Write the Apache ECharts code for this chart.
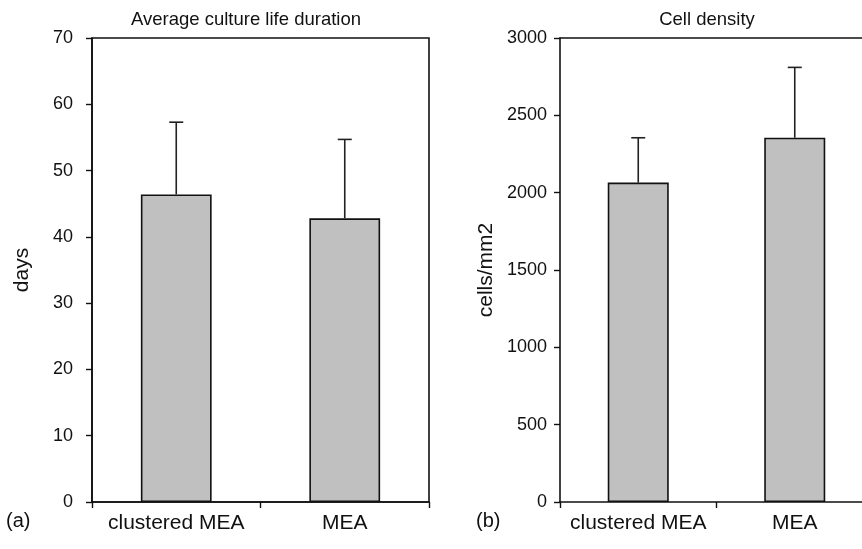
<!DOCTYPE html>
<html>
<head>
<meta charset="utf-8">
<script src="https://cdn.jsdelivr.net/npm/echarts@6/dist/echarts.min.js"></script>
<style>
  html, body { margin: 0; padding: 0; background: #fff; overflow: hidden; }
  #chart { width: 862px; height: 549px; }
</style>
</head>
<body>
<div id="chart"></div>
<script>
// Categories shared by both panels
const categories = ['clustered MEA', 'MEA'];

// (a) Average culture life duration, days
const lifeMean = [46.4, 42.8];
const lifeSD = [10.9, 11.9];
const lifeTicks = { min: 0, max: 70, interval: 10 };

// (b) Cell density, cells/mm2
const densityMean = [2065, 2355];
const densitySD = [290, 455];
const densityTicks = { min: 0, max: 3000, interval: 500 };

const FONT = 'Liberation Sans, Arial, Helvetica, sans-serif';
const BAR_FILL = '#c0c0c0';
const INK = '#111';

function errorSeries(mean, sd, axisIndex) {
  return {
    type: 'custom',
    xAxisIndex: axisIndex,
    yAxisIndex: axisIndex,
    z: 3,
    data: mean.map((m, i) => [i, m, m + sd[i]]),
    renderItem: function (params, api) {
      const base = api.coord([api.value(0), api.value(1)]);
      const top = api.coord([api.value(0), api.value(2)]);
      const half = 7;
      const style = { stroke: '#222', lineWidth: 1.6 };
      return {
        type: 'group',
        children: [
          { type: 'line', shape: { x1: base[0], y1: base[1], x2: top[0], y2: top[1] }, style: style },
          { type: 'line', shape: { x1: top[0] - half, y1: top[1], x2: top[0] + half, y2: top[1] }, style: style }
        ]
      };
    }
  };
}

function xAxisFor(gridIndex) {
  return {
    type: 'category',
    gridIndex: gridIndex,
    position: 'bottom',
    data: categories,
    boundaryGap: true,
    axisLine: { lineStyle: { color: INK, width: 1.6 } },
    axisTick: { show: true, alignWithLabel: false, length: 6, lineStyle: { color: INK, width: 1.4 } },
    axisLabel: { color: INK, fontFamily: FONT, fontSize: 21, margin: 11, interval: 0, hideOverlap: false },
    splitLine: { show: false }
  };
}

// Plain frame line along the top of a panel
function topFrame(gridIndex) {
  return {
    type: 'category',
    gridIndex: gridIndex,
    position: 'top',
    data: categories,
    axisLine: { show: true, lineStyle: { color: INK, width: 1.6 } },
    axisTick: { show: false },
    axisLabel: { show: false },
    splitLine: { show: false }
  };
}

function yAxisFor(gridIndex, ticks, name, gap, labelMargin) {
  return {
    type: 'value',
    gridIndex: gridIndex,
    min: ticks.min,
    max: ticks.max,
    interval: ticks.interval,
    name: name,
    nameLocation: 'middle',
    nameGap: gap,
    nameTextStyle: { color: INK, fontFamily: FONT, fontSize: 21 },
    axisLine: { show: true, lineStyle: { color: INK, width: 1.6 } },
    axisTick: { show: true, length: 6, lineStyle: { color: INK, width: 1.4 } },
    axisLabel: {
      color: INK, fontFamily: FONT, fontSize: 18, margin: labelMargin,
      formatter: function (v) { return String(v); }
    },
    splitLine: { show: false }
  };
}

const chart = echarts.init(document.getElementById('chart'), null, { renderer: 'canvas' });

chart.setOption({
  animation: false,
  backgroundColor: '#fff',
  title: [
    { text: 'Average culture life duration', left: 241, top: 5, textAlign: 'center',
      textStyle: { color: INK, fontFamily: FONT, fontSize: 18.5, fontWeight: 'normal' } },
    { text: 'Cell density', left: 702, top: 5, textAlign: 'center',
      textStyle: { color: INK, fontFamily: FONT, fontSize: 18.5, fontWeight: 'normal' } }
  ],
  grid: [
    // panel (a) is fully boxed
    { left: 92, top: 38, width: 337, height: 464, show: true, borderColor: INK, borderWidth: 1.6,
      backgroundColor: 'transparent', outerBoundsMode: 'none' },
    // panel (b) runs past the right edge of the page
    { left: 560, top: 38, width: 313, height: 464, show: false, outerBoundsMode: 'none' }
  ],
  xAxis: [xAxisFor(0), xAxisFor(1), topFrame(1)],
  yAxis: [
    yAxisFor(0, lifeTicks, 'days', 59, 19),
    yAxisFor(1, densityTicks, 'cells/mm2', 63, 13)
  ],
  graphic: [
    { type: 'text', left: 6, top: 511, style: { text: '(a)', fill: INK, font: '20px ' + FONT } },
    { type: 'text', left: 476, top: 511, style: { text: '(b)', fill: INK, font: '20px ' + FONT } }
  ],
  series: [
    {
      type: 'bar',
      xAxisIndex: 0,
      yAxisIndex: 0,
      data: lifeMean,
      barWidth: '42%',
      itemStyle: { color: BAR_FILL, borderColor: INK, borderWidth: 1.6 }
    },
    errorSeries(lifeMean, lifeSD, 0),
    {
      type: 'bar',
      xAxisIndex: 1,
      yAxisIndex: 1,
      data: densityMean,
      barWidth: '39%',
      itemStyle: { color: BAR_FILL, borderColor: INK, borderWidth: 1.6 }
    },
    errorSeries(densityMean, densitySD, 1)
  ]
});
</script>
</body>
</html>
